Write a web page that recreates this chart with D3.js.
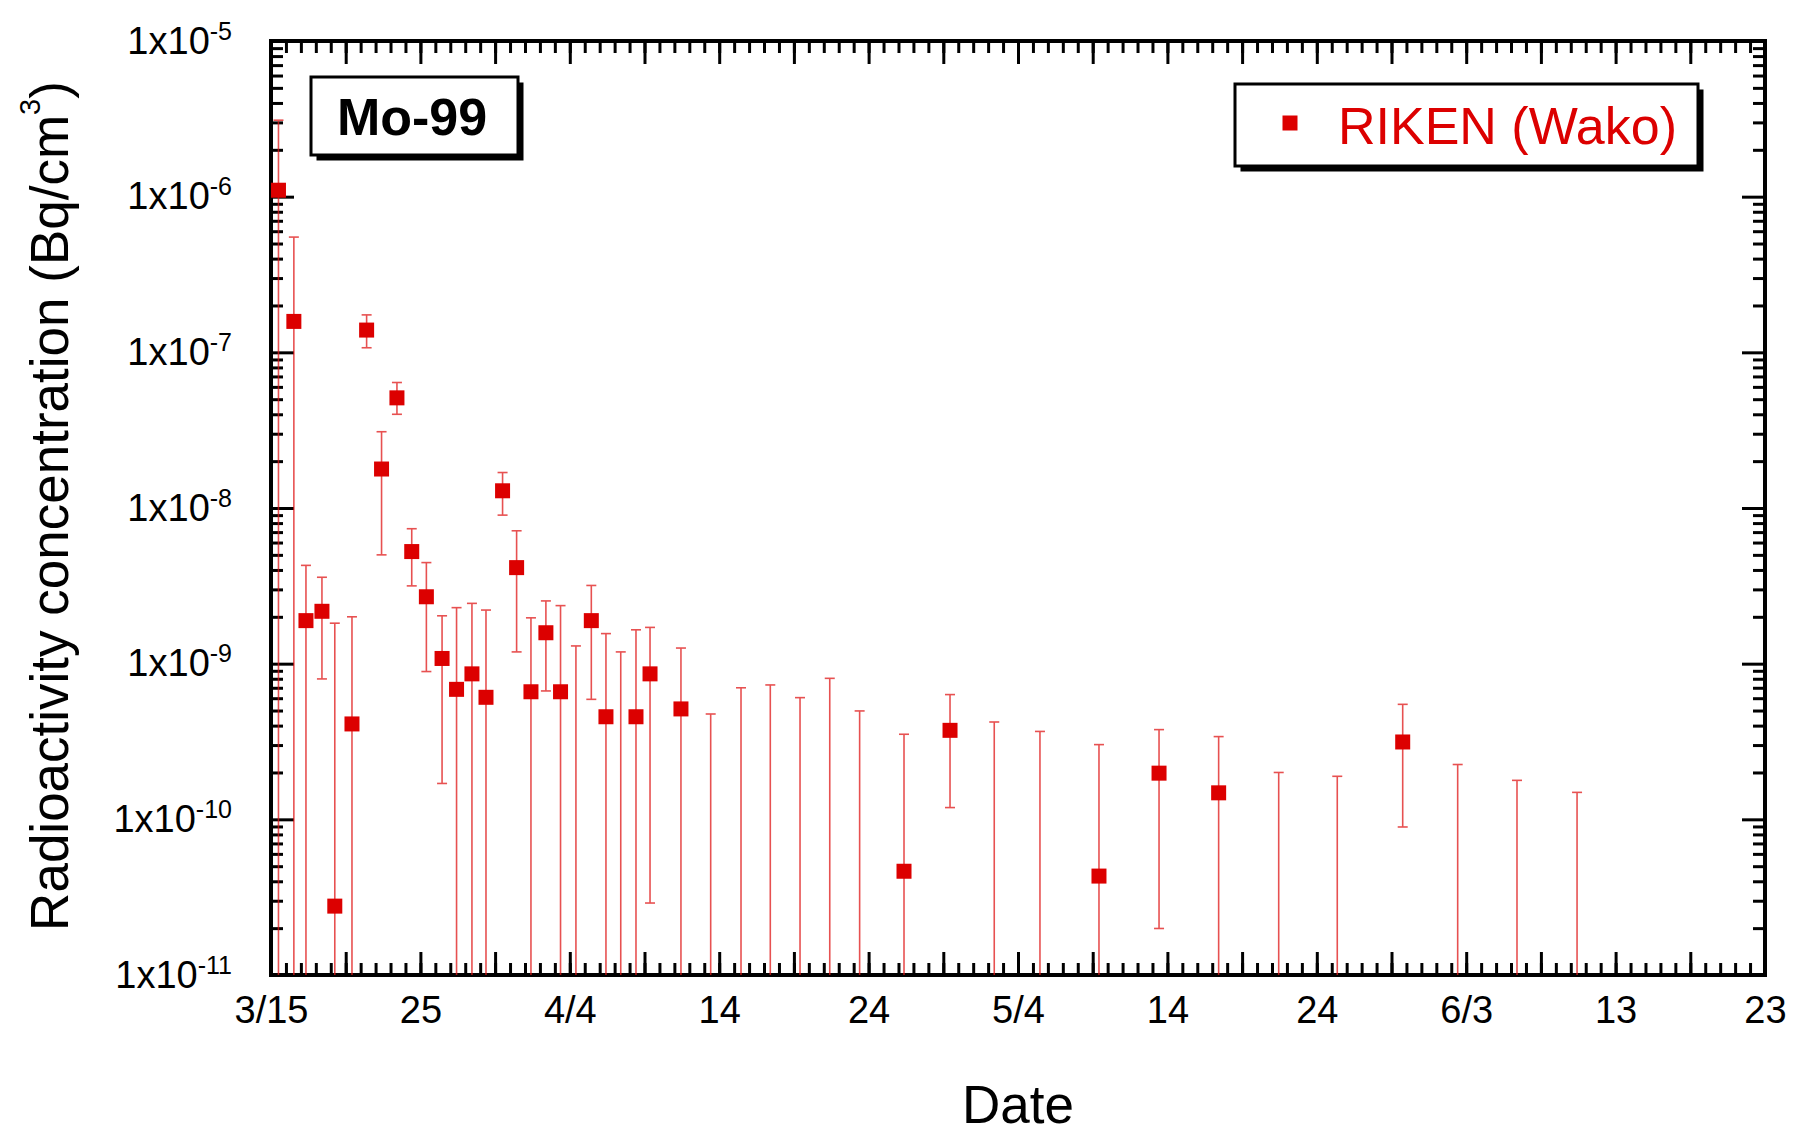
<!DOCTYPE html>
<html>
<head>
<meta charset="utf-8">
<script src="https://cdn.jsdelivr.net/npm/d3@7"></script>
<style>
  body { margin: 0; background: #fff; }
  svg text { font-family: "Liberation Sans", Arial, sans-serif; }
</style>
</head>
<body>
<div id="chart"></div>
<script>
// days after 3/15 (0 = 3/15 00:00)
const days = [0.5, 1.53, 2.34, 3.41, 4.27, 5.42, 6.4, 7.4, 8.43, 9.42,
              10.4, 11.45, 12.42, 13.45, 14.39, 15.5, 16.44, 17.4, 18.4, 19.38,
              20.41, 21.44, 22.42, 23.41, 24.43, 25.37, 27.44, 29.43, 31.46, 33.42,
              35.41, 37.4, 39.4, 42.37, 45.45, 48.41, 51.47, 55.42, 59.44, 63.43,
              67.45, 71.37, 75.75, 79.43, 83.4, 87.42];
// measured value (null = below detection, only the upper bar is drawn)
const values = [1.1e-6, 1.58e-7, 1.89e-9, 2.17e-9, 2.77e-11, 4.1e-10, 1.39e-7, 1.78e-8, 5.1e-8, 5.25e-9,
                2.69e-9, 1.08e-9, 6.84e-10, 8.6e-10, 6.08e-10, 1.29e-8, 4.14e-9, 6.6e-10, 1.58e-9, 6.6e-10,
                null, 1.89e-9, 4.56e-10, null, 4.56e-10, 8.6e-10, 5.12e-10, null, null, null,
                null, null, null, 4.64e-11, 3.73e-10, null, null, 4.32e-11, 1.98e-10, 1.48e-10,
                null, null, 3.14e-10, null, null, null];
// upper end of the error bar
const upper = [3.1e-6, 5.5e-7, 4.28e-9, 3.59e-9, 1.82e-9, 2.0e-9, 1.74e-7, 3.09e-8, 6.4e-8, 7.36e-9,
               4.46e-9, 2.03e-9, 2.29e-9, 2.44e-9, 2.21e-9, 1.69e-8, 7.14e-9, 1.97e-9, 2.53e-9, 2.36e-9,
               1.3e-9, 3.18e-9, 1.56e-9, 1.19e-9, 1.65e-9, 1.71e-9, 1.26e-9, 4.75e-10, 7.0e-10, 7.3e-10,
               6.05e-10, 8.05e-10, 4.97e-10, 3.52e-10, 6.33e-10, 4.22e-10, 3.67e-10, 3.02e-10, 3.77e-10, 3.4e-10,
               2.0e-10, 1.89e-10, 5.48e-10, 2.25e-10, 1.78e-10, 1.49e-10];
// lower end of the error bar (1e-11 = runs down to the axis)
const lower = [1e-11, 1e-11, 1e-11, 7.98e-10, 1e-11, 1e-11, 1.07e-7, 5.0e-9, 4.0e-8, 3.16e-9,
               8.9e-10, 1.7e-10, 1e-11, 1e-11, 1e-11, 9.0e-9, 1.19e-9, 1e-11, 6.68e-10, 1e-11,
               1e-11, 5.9e-10, 1e-11, 1e-11, 1e-11, 2.9e-11, 1e-11, 1e-11, 1e-11, 1e-11,
               1e-11, 1e-11, 1e-11, 1e-11, 1.19e-10, 1e-11, 1e-11, 1e-11, 1.99e-11, 1e-11,
               1e-11, 1e-11, 8.93e-11, 1e-11, 1e-11, 1e-11];

const xTickLabels = ["3/15", "25", "4/4", "14", "24", "5/4", "14", "24", "6/3", "13", "23"];
const decades = [1e-11, 1e-10, 1e-9, 1e-8, 1e-7, 1e-6, 1e-5];

const W = 1809, H = 1136;
const red = "#dc0000";

const svg = d3.select("#chart").append("svg")
  .attr("width", W).attr("height", H);

const x = d3.scaleLinear().domain([0, 100]).range([271, 1765]);
const y = d3.scaleLog().domain([1e-11, 1e-5]).range([975, 41]);

const data = days.map((d, i) => ({ day: d, v: values[i], hi: upper[i], lo: lower[i] }));

// minor tick values
const dayMinor = d3.range(0, 101);
const dayMajor = d3.range(0, 101, 5);
const logMinor = [];
decades.slice(0, -1).forEach(dec => { for (let m = 2; m <= 9; m++) logMinor.push(m * dec); });

function styleTicks(g) {
  g.select(".domain").remove();
  g.selectAll(".tick line").attr("stroke", "#000").attr("stroke-width", 3);
}

// bottom axis
svg.append("g").attr("transform", "translate(0,975)")
  .call(d3.axisBottom(x).tickValues(dayMinor).tickSize(-12).tickFormat(""))
  .call(styleTicks);
svg.append("g").attr("transform", "translate(0,975)")
  .call(d3.axisBottom(x).tickValues(dayMajor).tickSize(-23).tickPadding(21)
    .tickFormat(d => d % 10 === 0 ? xTickLabels[d / 10] : ""))
  .call(styleTicks)
  .call(g => g.selectAll(".tick text").attr("font-size", 38).attr("fill", "#000")
    .attr("font-family", "Liberation Sans, Arial, sans-serif"));

// top axis
svg.append("g").attr("transform", "translate(0,41)")
  .call(d3.axisTop(x).tickValues(dayMinor).tickSize(-12).tickFormat(""))
  .call(styleTicks);
svg.append("g").attr("transform", "translate(0,41)")
  .call(d3.axisTop(x).tickValues(dayMajor).tickSize(-23).tickFormat(""))
  .call(styleTicks);

// left axis
svg.append("g").attr("transform", "translate(271,0)")
  .call(d3.axisLeft(y).tickValues(logMinor).tickSize(-12).tickFormat(""))
  .call(styleTicks);
svg.append("g").attr("transform", "translate(271,0)")
  .call(d3.axisLeft(y).tickValues(decades).tickSize(-23).tickPadding(39).tickFormat(""))
  .call(styleTicks)
  .call(g => g.selectAll(".tick text").each(function(d) {
    const t = d3.select(this).attr("font-size", 38).attr("fill", "#000")
      .attr("font-family", "Liberation Sans, Arial, sans-serif");
    t.append("tspan").text("1x10");
    t.append("tspan").attr("font-size", 25).attr("dy", -14).text(Math.round(Math.log10(d)));
  }));

// right axis
svg.append("g").attr("transform", "translate(1765,0)")
  .call(d3.axisRight(y).tickValues(logMinor).tickSize(-12).tickFormat(""))
  .call(styleTicks);
svg.append("g").attr("transform", "translate(1765,0)")
  .call(d3.axisRight(y).tickValues(decades).tickSize(-23).tickFormat(""))
  .call(styleTicks);

// frame
svg.append("rect")
  .attr("x", x(0)).attr("y", y(1e-5))
  .attr("width", x(100) - x(0)).attr("height", y(1e-11) - y(1e-5))
  .attr("fill", "none").attr("stroke", "#000").attr("stroke-width", 4);

// error bars
const bars = svg.append("g").attr("stroke", "#e01818").attr("stroke-width", 1.6).attr("opacity", 0.75);
bars.selectAll("line.bar").data(data).enter().append("line")
  .attr("class", "bar")
  .attr("x1", d => x(d.day)).attr("x2", d => x(d.day))
  .attr("y1", d => y(d.hi)).attr("y2", d => y(d.lo));
bars.selectAll("line.capTop").data(data).enter().append("line")
  .attr("class", "capTop")
  .attr("x1", d => x(d.day) - 5).attr("x2", d => x(d.day) + 5)
  .attr("y1", d => y(d.hi)).attr("y2", d => y(d.hi));
bars.selectAll("line.capBot").data(data.filter(d => d.lo > 1e-11)).enter().append("line")
  .attr("class", "capBot")
  .attr("x1", d => x(d.day) - 5).attr("x2", d => x(d.day) + 5)
  .attr("y1", d => y(d.lo)).attr("y2", d => y(d.lo));

// markers
svg.append("g").selectAll("rect").data(data.filter(d => d.v !== null)).enter().append("rect")
  .attr("x", d => x(d.day) - 7.5).attr("y", d => y(d.v) - 7.5)
  .attr("width", 15).attr("height", 15)
  .attr("fill", red);

// boxes with drop shadow
function shadowBox(x0, y0, w, h) {
  svg.append("rect").attr("x", x0 + 5.5).attr("y", y0 + 5.5).attr("width", w).attr("height", h)
    .attr("fill", "#000");
  svg.append("rect").attr("x", x0).attr("y", y0).attr("width", w).attr("height", h)
    .attr("fill", "#fff").attr("stroke", "#000").attr("stroke-width", 3);
}

shadowBox(311, 77, 207, 78);
svg.append("text").attr("x", 412).attr("y", 135)
  .attr("text-anchor", "middle").attr("font-size", 52).attr("font-weight", "bold")
  .text("Mo-99");

shadowBox(1235, 84, 463, 82);
svg.append("rect").attr("x", 1282.5).attr("y", 115.5).attr("width", 15).attr("height", 15).attr("fill", red);
svg.append("text").attr("x", 1338).attr("y", 144)
  .attr("font-size", 52).attr("fill", red)
  .text("RIKEN (Wako)");

// axis titles
svg.append("text").attr("x", 1018).attr("y", 1123)
  .attr("text-anchor", "middle").attr("font-size", 53)
  .text("Date");

const yt = svg.append("text")
  .attr("transform", "translate(68,506) rotate(-90)")
  .attr("text-anchor", "middle").attr("font-size", 53);
yt.append("tspan").text("Radioactivity concentration (Bq/cm");
yt.append("tspan").attr("font-size", 29).attr("dy", -28).text("3");
yt.append("tspan").attr("dy", 28).text(")");
</script>
</body>
</html>
